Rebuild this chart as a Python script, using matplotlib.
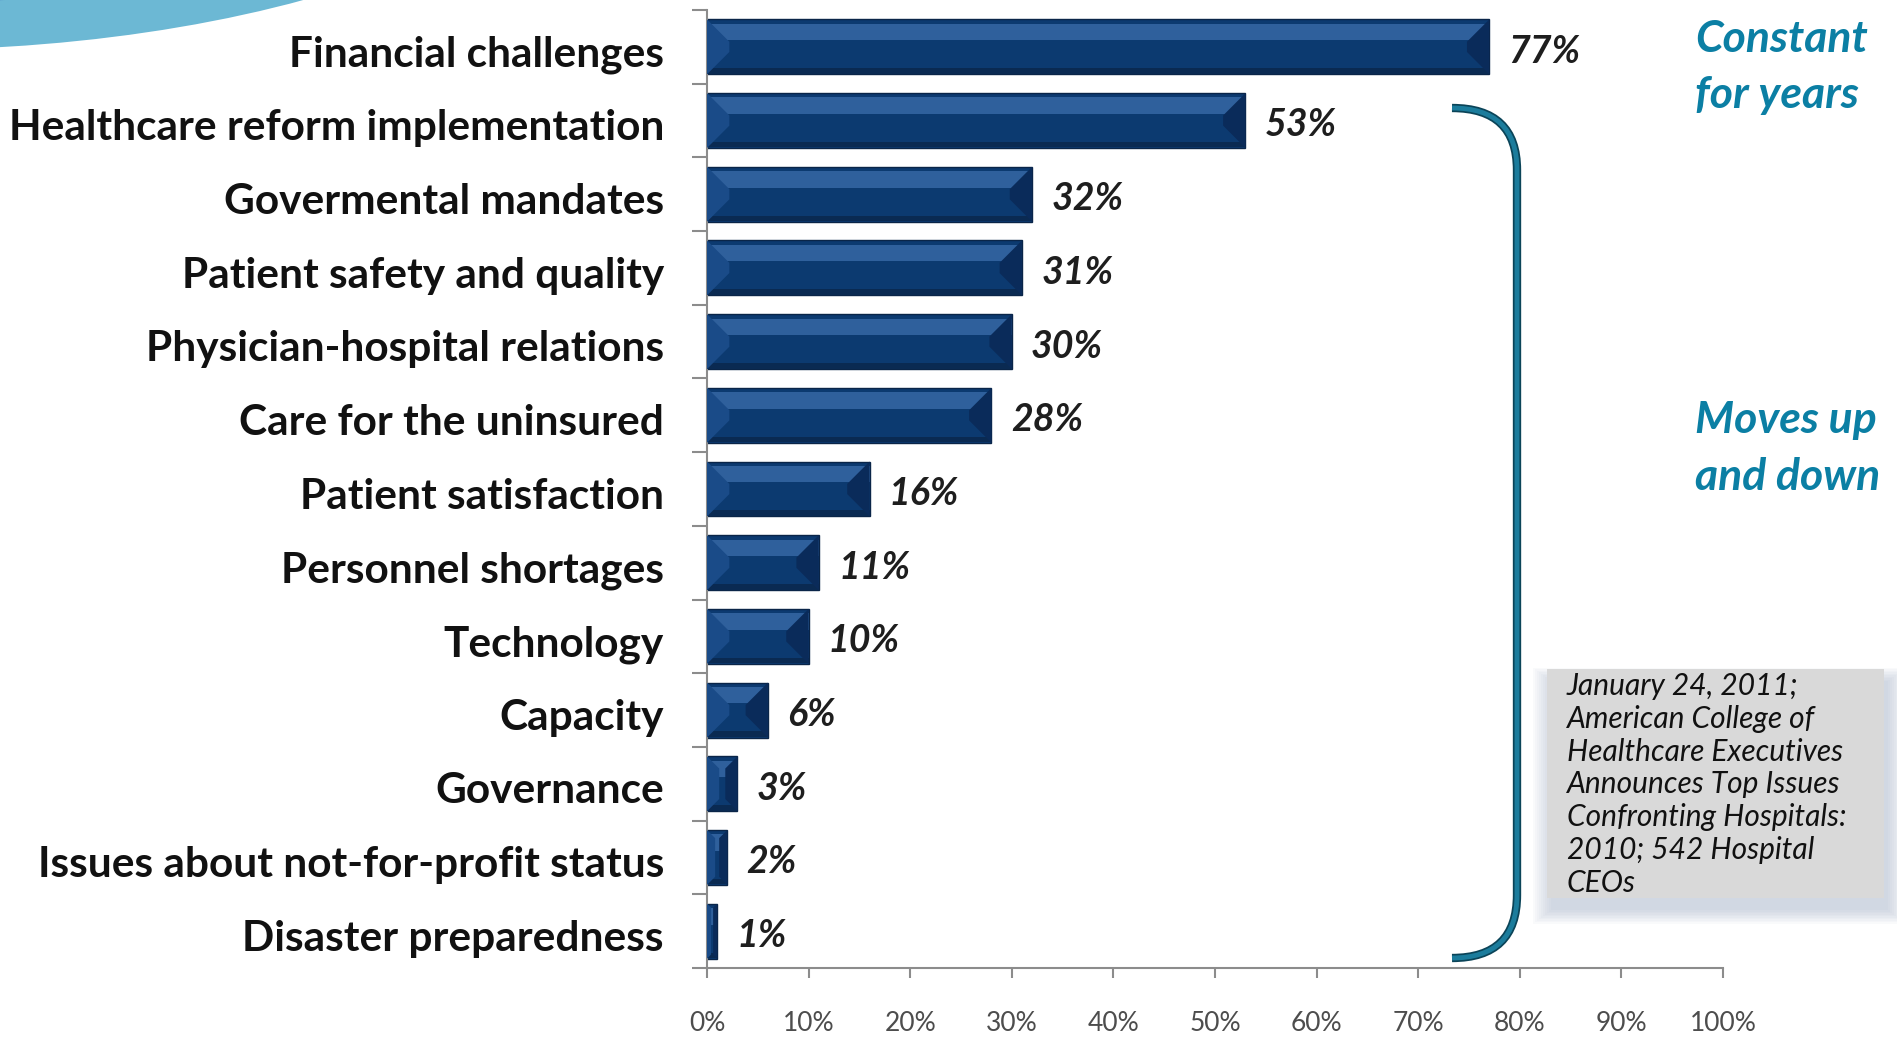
import numpy as np
import matplotlib
matplotlib.use('Agg')
import matplotlib.pyplot as plt
import matplotlib.transforms as mtransforms
from matplotlib.patches import Polygon, Rectangle, Ellipse, PathPatch
from matplotlib.path import Path

issues = ['Financial challenges', 'Healthcare reform implementation', 'Govermental mandates',
          'Patient safety and quality', 'Physician-hospital relations', 'Care for the uninsured',
          'Patient satisfaction', 'Personnel shortages', 'Technology', 'Capacity', 'Governance',
          'Issues about not-for-profit status', 'Disaster preparedness']
pct = [77, 53, 32, 31, 30, 28, 16, 11, 10, 6, 3, 2, 1]
xticks = list(range(0, 101, 10))
side_top = ['Constant', 'for years']
side_mid = ['Moves up', 'and down']
note_lines = ['January 24, 2011;', 'American College of', 'Healthcare Executives',
              'Announces Top Issues', 'Confronting Hospitals:', '2010; 542 Hospital', 'CEOs']

plt.rcParams['font.family'] = ['Lato', 'DejaVu Sans']

W, H = 1897, 1038
fig = plt.figure(figsize=(W / 100, H / 100), dpi=100)
fig.patch.set_facecolor('white')

ax = fig.add_axes([707 / W, 70 / H, (1723 - 707) / W, (1028 - 70) / H])
y = np.arange(len(issues))
h = 0.745

# bevelled bars: dark body, light upper band, dark lower band, end wedges
ax.barh(y, pct, height=h, color='#0C3A70', edgecolor='#0A2548', linewidth=1, zorder=2)
ax.barh(y - 0.27 * h, pct, height=0.30 * h, color='#2F609C', linewidth=0, zorder=3)
ax.barh(y + 0.44 * h, pct, height=0.10 * h, color='#0A2A52', linewidth=0, zorder=3)
for yi, v in zip(y, pct):
    bx = min(2.2, v * 0.4)
    by = bx * 10.16 / 73.7
    top, bot = yi - h / 2, yi + h / 2
    ax.add_patch(Polygon([(v, top), (v - bx, top + by), (v - bx, bot - by), (v, bot)],
                         closed=True, color='#0A2B5A', lw=0, zorder=4))
    ax.add_patch(Polygon([(0, top), (bx, top + by), (bx, bot - by), (0, bot)],
                         closed=True, color='#1A4B88', lw=0, zorder=4))
    ax.text(v + 1.9, yi + 0.06, f'{v}%', va='center', ha='left', fontsize=27,
            fontweight='bold', fontstyle='italic', color='#1E1E1E')

ax.set_xlim(0, 100)
ax.set_ylim(len(issues) - 0.5, -0.5)
ax.set_xticks(xticks, [f'{t}%' for t in xticks])
ax.set_yticks(np.arange(-0.5, len(issues), 1), [''] * (len(issues) + 1))
ax.set_yticks(y, issues, minor=True)
ax.tick_params(axis='y', which='major', length=11, width=1.5, color='#8C8C8C')
ax.tick_params(axis='y', which='minor', length=0, pad=31)
ax.tick_params(axis='x', length=7, width=1.5, color='#8C8C8C', pad=24,
               labelsize=19, labelcolor='#4D4D4D')
shift = mtransforms.ScaledTranslation(0, -3 / 72, fig.dpi_scale_trans)
for lab in ax.get_yticklabels(minor=True):
    lab.set_fontsize(30.5)
    lab.set_fontweight('bold')
    lab.set_color('#111111')
    lab.set_transform(lab.get_transform() + shift)
for s in ['top', 'right']:
    ax.spines[s].set_visible(False)
for s in ['left', 'bottom']:
    ax.spines[s].set_color('#8C8C8C')
    ax.spines[s].set_linewidth(1.5)

# overlay in pixel coordinates for the decorations
deco = fig.add_axes([0, 0, 1, 1], zorder=5)
deco.set_xlim(0, W)
deco.set_ylim(H, 0)
deco.patch.set_alpha(0)
deco.axis('off')

deco.add_patch(Ellipse((-100, -250), 1460, 600, color='#6CB8D4', lw=0))
deco.add_patch(Ellipse((-120, -290), 1360, 590, color='#4F86C6', lw=0, alpha=0.55))

# bracket
verts = [(1452, 108), (1517, 108), (1517, 170), (1517, 895), (1517, 958), (1452, 958)]
codes = [Path.MOVETO, Path.CURVE3, Path.CURVE3, Path.LINETO, Path.CURVE3, Path.CURVE3]
br = Path(verts, codes)
deco.add_patch(PathPatch(br, fill=False, lw=6, edgecolor='#0B4458', capstyle='butt'))
deco.add_patch(PathPatch(br, fill=False, lw=3.5, edgecolor='#1B7C9C', capstyle='butt'))

for k, t in enumerate(side_top):
    deco.text(1695, 52 + k * 56, t, va='baseline', ha='left', fontsize=32,
              fontweight='bold', fontstyle='italic', color='#0B7FA4')
for k, t in enumerate(side_mid):
    deco.text(1695, 433 + k * 57, t, va='baseline', ha='left', fontsize=32,
              fontweight='bold', fontstyle='italic', color='#0B7FA4')

# note box with soft shadow
for k in range(10):
    deco.add_patch(Rectangle((1547 - k * 2 + 4, 669 - k * 1.5 + 12), 337 + k * 4, 229 + k * 3,
                             color='#9AA8C4', alpha=0.05, lw=0))
deco.add_patch(Rectangle((1547, 669), 337, 229, color='#D9D9D9', lw=0))
for k, t in enumerate(note_lines):
    deco.text(1567, 695 + k * 32.8, t, va='baseline', ha='left', fontsize=21.5,
              fontstyle='italic', color='#111111')

fig.savefig('out.png', dpi=100)
